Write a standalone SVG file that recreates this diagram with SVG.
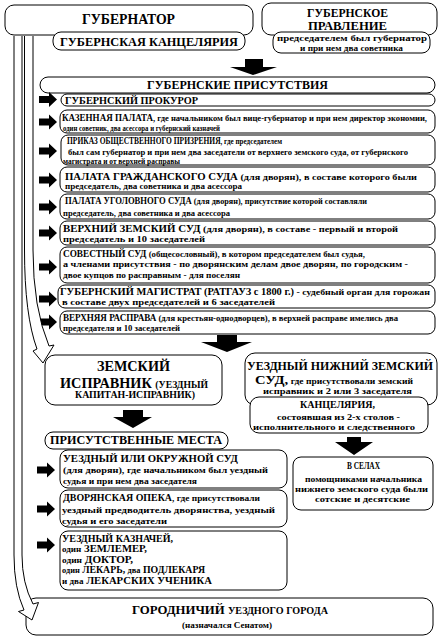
<svg xmlns="http://www.w3.org/2000/svg" width="443" height="640" viewBox="0 0 443 640">
<defs>
<style>
.b{fill:#fff;stroke:#000;stroke-width:1}
.t{font-family:'Liberation Serif','DejaVu Serif','Times New Roman',serif;font-weight:bold;fill:#000}
.s{font-size:9px}
.c{font-size:9.5px}
.ar{fill:#000}
.ha{fill:#fff;stroke:#000;stroke-width:1}
</style>
<path id="ra" d="M0,-3.5 H10 V-7.5 L18,0 L10,7.5 V3.5 H0 Z"/>
</defs>
<rect width="443" height="640" fill="#fff"/>

<g id="gubernator">
<rect class="b" x="5" y="5" width="248" height="30" rx="9"/>
<text class="t" x="82" y="24" font-size="14" textLength="93" lengthAdjust="spacingAndGlyphs">ГУБЕРНАТОР</text>
</g>
<g id="gub-kanc">
<rect class="b" x="53" y="32" width="192" height="18" rx="8"/>
<text class="t" x="60" y="46" font-size="12" textLength="178" lengthAdjust="spacingAndGlyphs">ГУБЕРНСКАЯ КАНЦЕЛЯРИЯ</text>
</g>
<g id="pravlenie">
<rect class="b" x="262" y="3" width="175" height="32" rx="9"/>
<text class="t" x="307" y="17" font-size="12" textLength="81" lengthAdjust="spacingAndGlyphs">ГУБЕРНСКОЕ</text>
<text class="t" x="308" y="30" font-size="12" textLength="79" lengthAdjust="spacingAndGlyphs">ПРАВЛЕНИЕ</text>
</g>
<g id="pravlenie-sostav">
<rect class="b" x="273" y="32" width="157" height="21" rx="8"/>
<text class="t" x="277" y="41" font-size="8.5" textLength="150" lengthAdjust="spacingAndGlyphs">председателем был губернатор</text>
<text class="t" x="300" y="50.5" font-size="8.5" textLength="103" lengthAdjust="spacingAndGlyphs">и при нем два советника</text>
</g>
<g id="prisutstviya">
<rect class="b" x="40" y="77" width="395" height="16" rx="8"/>
<text class="t" x="147" y="88.5" font-size="12" textLength="181" lengthAdjust="spacingAndGlyphs">ГУБЕРНСКИЕ ПРИСУТСТВИЯ</text>
</g>

<g id="e1">
<rect class="b" x="61" y="94" width="374" height="12" rx="6"/>
<text class="t c" x="65" y="103.5" textLength="133" lengthAdjust="spacingAndGlyphs">ГУБЕРНСКИЙ ПРОКУРОР</text>
</g>
<g id="e2">
<rect class="b" x="60" y="110" width="375" height="23" rx="7"/>
<text class="t s" x="62" y="121" textLength="365" lengthAdjust="spacingAndGlyphs"><tspan class="c">КАЗЕННАЯ ПАЛАТА</tspan>, где начальником был вице-губернатор и при нем директор экономии,</text>
<text class="t s" x="63" y="130.5" textLength="157" lengthAdjust="spacingAndGlyphs">один советник, два асессора и губернский казначей</text>
</g>
<g id="e3">
<rect class="b" x="61" y="135" width="374" height="30" rx="7"/>
<text class="t s" x="67" y="143.5" textLength="215" lengthAdjust="spacingAndGlyphs"><tspan class="c">ПРИКАЗ ОБЩЕСТВЕННОГО ПРИЗРЕНИЯ</tspan>, где председателем</text>
<text class="t" x="68" y="154.5" font-size="8.5" textLength="340" lengthAdjust="spacingAndGlyphs">был сам губернатор и при нем два заседатели от верхнего земского суда, от губернского</text>
<text class="t" x="63" y="163.5" font-size="8.5" textLength="117" lengthAdjust="spacingAndGlyphs">магистрата и от верхней расправы</text>
</g>
<g id="e4">
<rect class="b" x="60" y="167" width="375" height="25" rx="7"/>
<text class="t s" x="65" y="179.5" textLength="352" lengthAdjust="spacingAndGlyphs"><tspan class="c">ПАЛАТА ГРАЖДАНСКОГО СУДА</tspan> (для дворян), в составе которого были</text>
<text class="t s" x="65" y="189" textLength="177" lengthAdjust="spacingAndGlyphs">председатель, два советника и два асессора</text>
</g>
<g id="e5">
<rect class="b" x="60" y="194" width="375" height="25" rx="7"/>
<text class="t s" x="65" y="203.5" textLength="302" lengthAdjust="spacingAndGlyphs"><tspan class="c">ПАЛАТА УГОЛОВНОГО СУДА</tspan> (для дворян), присутствие которой составляли</text>
<text class="t s" x="63" y="215.5" textLength="167" lengthAdjust="spacingAndGlyphs">председатель, два советника и два асессора</text>
</g>
<g id="e6">
<rect class="b" x="60" y="221" width="375" height="24" rx="7"/>
<text class="t s" x="63" y="232" textLength="335" lengthAdjust="spacingAndGlyphs"><tspan class="c">ВЕРХНИЙ ЗЕМСКИЙ СУД</tspan> (для дворян), в составе - первый и второй</text>
<text class="t s" x="63" y="241.5" textLength="142" lengthAdjust="spacingAndGlyphs">председатель и 10 заседателей</text>
</g>
<g id="e7">
<rect class="b" x="60" y="247" width="375" height="36" rx="7"/>
<text class="t s" x="63" y="256.5" textLength="302" lengthAdjust="spacingAndGlyphs"><tspan class="c">СОВЕСТНЫЙ СУД</tspan> (общесословный), в котором председателем был судья,</text>
<text class="t s" x="63" y="266.5" textLength="345" lengthAdjust="spacingAndGlyphs">а членами присутствия - по дворянским делам двое дворян, по городским -</text>
<text class="t s" x="63" y="277.5" textLength="177" lengthAdjust="spacingAndGlyphs">двое купцов по расправным - для поселян</text>
</g>
<g id="e8">
<rect class="b" x="58" y="285" width="377" height="23" rx="7"/>
<text class="t s" x="60" y="294.5" textLength="370" lengthAdjust="spacingAndGlyphs"><tspan class="c">ГУБЕРНСКИЙ МАГИСТРАТ (РАТГАУЗ с 1800 г.)</tspan> - судебный орган для горожан</text>
<text class="t s" x="62" y="305" textLength="213" lengthAdjust="spacingAndGlyphs">в составе двух председателей и 6 заседателей</text>
</g>
<g id="e9">
<rect class="b" x="60" y="311" width="375" height="23" rx="7"/>
<text class="t s" x="63" y="320.5" textLength="335" lengthAdjust="spacingAndGlyphs"><tspan class="c">ВЕРХНЯЯ РАСПРАВА</tspan> (для крестьян-однодворцев), в верхней расправе имелись два</text>
<text class="t s" x="63" y="330.5" textLength="117" lengthAdjust="spacingAndGlyphs">председателя и 10 заседателей</text>
</g>

<g id="zemsky-ispravnik">
<rect class="b" x="45" y="355" width="177" height="50" rx="10"/>
<text class="t" x="97" y="370.5" font-size="14" textLength="73" lengthAdjust="spacingAndGlyphs">ЗЕМСКИЙ</text>
<text class="t" x="60" y="388" font-size="14" textLength="148" lengthAdjust="spacingAndGlyphs">ИСПРАВНИК <tspan font-size="9.5">(УЕЗДНЫЙ</tspan></text>
<text class="t" x="75" y="398" font-size="9.5" textLength="120" lengthAdjust="spacingAndGlyphs">КАПИТАН-ИСПРАВНИК)</text>
</g>
<g id="uezd-nizh-sud">
<rect class="b" x="245" y="353" width="192" height="52" rx="10"/>
<text class="t" x="247" y="370" font-size="12.5" textLength="186" lengthAdjust="spacingAndGlyphs">УЕЗДНЫЙ НИЖНИЙ ЗЕМСКИЙ</text>
<text class="t" x="255" y="384" font-size="8.5" textLength="158" lengthAdjust="spacingAndGlyphs"><tspan font-size="13">СУД,</tspan> где присутствовали земский</text>
<text class="t" x="263" y="393.5" font-size="8.5" textLength="149" lengthAdjust="spacingAndGlyphs">исправник и 2 или 3 заседателя</text>
</g>
<g id="kancelyariya">
<rect class="b" x="250" y="397" width="178" height="36" rx="9"/>
<text class="t" x="300" y="408" font-size="11" textLength="75" lengthAdjust="spacingAndGlyphs">КАНЦЕЛЯРИЯ,</text>
<text class="t" x="277" y="419.5" font-size="8.5" textLength="123" lengthAdjust="spacingAndGlyphs">состоявшая из 2-х столов -</text>
<text class="t" x="253" y="430" font-size="8.5" textLength="162" lengthAdjust="spacingAndGlyphs">исполнительного и следственного</text>
</g>
<g id="prisut-mesta">
<rect class="b" x="45" y="432" width="183" height="17" rx="8"/>
<text class="t" x="50" y="444" font-size="13" textLength="172" lengthAdjust="spacingAndGlyphs">ПРИСУТСТВЕННЫЕ МЕСТА</text>
</g>
<g id="v-selah">
<rect class="b" x="293" y="457" width="140" height="53" rx="8"/>
<text class="t" x="347" y="469" font-size="10.5" textLength="33" lengthAdjust="spacingAndGlyphs">В СЕЛАХ</text>
<text class="t" x="305" y="482" font-size="8.5" textLength="117" lengthAdjust="spacingAndGlyphs">помощниками начальника</text>
<text class="t" x="295" y="492" font-size="8.5" textLength="133" lengthAdjust="spacingAndGlyphs">нижнего земского суда были</text>
<text class="t" x="315" y="502" font-size="8.5" textLength="95" lengthAdjust="spacingAndGlyphs">сотские и десятские</text>
</g>
<g id="uezd-sud">
<rect class="b" x="60" y="450" width="227" height="38" rx="8"/>
<text class="t" x="63" y="461.5" font-size="11" textLength="175" lengthAdjust="spacingAndGlyphs">УЕЗДНЫЙ ИЛИ ОКРУЖНОЙ СУД</text>
<text class="t s" x="63" y="473" textLength="205" lengthAdjust="spacingAndGlyphs">(для дворян), где начальником был уездный</text>
<text class="t s" x="63" y="483.5" textLength="134" lengthAdjust="spacingAndGlyphs">судья и при нем два заседателя</text>
</g>
<g id="dvor-opeka">
<rect class="b" x="60" y="490" width="227" height="37" rx="8"/>
<text class="t s" x="63" y="501" textLength="197" lengthAdjust="spacingAndGlyphs"><tspan class="c">ДВОРЯНСКАЯ ОПЕКА</tspan>, где присутствовали</text>
<text class="t s" x="62" y="512.5" textLength="213" lengthAdjust="spacingAndGlyphs">уездный предводитель дворянства, уездный</text>
<text class="t s" x="62" y="523.5" textLength="105" lengthAdjust="spacingAndGlyphs">судья и его заседатели</text>
</g>
<g id="uezd-kaznachey">
<rect class="b" x="60" y="531" width="227" height="59" rx="8"/>
<text class="t" x="62" y="541.5" font-size="10" textLength="111" lengthAdjust="spacingAndGlyphs">УЕЗДНЫЙ КАЗНАЧЕЙ,</text>
<text class="t" x="62" y="552" font-size="10" textLength="85" lengthAdjust="spacingAndGlyphs"><tspan font-size="8.5">один</tspan> ЗЕМЛЕМЕР,</text>
<text class="t" x="62" y="562.5" font-size="10" textLength="71" lengthAdjust="spacingAndGlyphs"><tspan font-size="8.5">один</tspan> ДОКТОР,</text>
<text class="t" x="62" y="573" font-size="10" textLength="143" lengthAdjust="spacingAndGlyphs"><tspan font-size="8.5">один</tspan> ЛЕКАРЬ, <tspan font-size="8.5">два</tspan> ПОДЛЕКАРЯ</text>
<text class="t" x="62" y="584" font-size="10" textLength="150" lengthAdjust="spacingAndGlyphs"><tspan font-size="8.5">и два</tspan> ЛЕКАРСКИХ УЧЕНИКА</text>
</g>
<g id="gorodnichiy">
<rect class="b" x="26" y="598" width="407" height="37" rx="10"/>
<text class="t" x="132" y="614" font-size="12" textLength="196" lengthAdjust="spacingAndGlyphs">ГОРОДНИЧИЙ <tspan font-size="9.5">УЕЗДНОГО ГОРОДА</tspan></text>
<text class="t" x="182" y="627.5" font-size="9" textLength="90" lengthAdjust="spacingAndGlyphs">(назначался Сенатом)</text>
</g>

<g id="connectors">
<path class="ar" d="M245,59 H263 V67 H277 L253,75 L230,67 H245 Z"/>
<path class="ar" d="M217,335 H237 V342 H252 L227,352 L201,342 H217 Z"/>
<path class="ar" d="M123,410 H143 V417 H152 L133,428 L113,417 H123 Z"/>
<path class="ar" d="M347,437 H361 V442 H373 L354,455 L335,442 H347 Z"/>
<use href="#ra" x="39" y="99.5"/>
<use href="#ra" x="39" y="122"/>
<use href="#ra" x="39" y="151"/>
<use href="#ra" x="39" y="180"/>
<use href="#ra" x="39" y="207"/>
<use href="#ra" x="39" y="233"/>
<use href="#ra" x="39" y="267"/>
<use href="#ra" x="39" y="299"/>
<use href="#ra" x="39" y="322"/>
<use href="#ra" x="37" y="470"/>
<use href="#ra" x="37" y="509"/>
<use href="#ra" x="37" y="545"/>
<path class="ha" d="M14,36 V555 Q14,588 24,610 L18.5,611.5 L32,620 L38.5,602.5 L33,604 Q22,583 22,555 V36"/>
<path class="ha" d="M24.5,36 V250 Q24.5,315 37,349 L33,351 L43,363 L54,345 L49,346 Q33,308 33,250 V36"/>
</g>
</svg>
